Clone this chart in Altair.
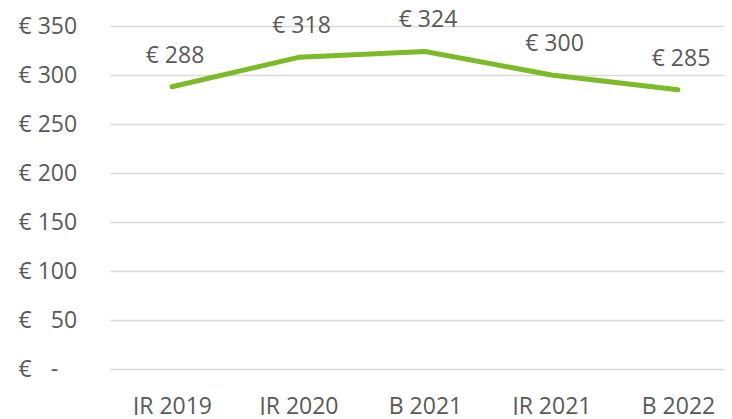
import altair as alt
import pandas as pd

periods = ["JR 2019", "JR 2020", "B 2021", "JR 2021", "B 2022"]
values = [288, 318, 324, 300, 285]
labels = ["€ 288", "€ 318", "€ 324", "€ 300", "€ 285"]

df = pd.DataFrame({"period": periods, "value": values, "label": labels})

FONT = "Open Sans"
GREY = "#595959"
FS = 23

x_enc = alt.X(
    "period:N",
    sort=periods,
    scale=alt.Scale(type="point", padding=0.427, align=0.574),
    axis=alt.Axis(
        title=None, domain=False, ticks=False, grid=False,
        labelFont=FONT, labelFontSize=FS, labelColor=GREY, labelPadding=26,
        labelAngle=0,
    ),
)
y_enc = alt.Y(
    "value:Q",
    scale=alt.Scale(domain=[0, 350], nice=False),
    axis=alt.Axis(
        title=None, domain=False, ticks=False, values=[0, 50, 100, 150, 200, 250, 300, 350],
        gridColor="#d9d9d9", gridWidth=1.3,
        labelFont=FONT, labelFontSize=FS, labelColor=GREY,
        labelAlign="left", labelPadding=92,
        labelExpr="datum.value == 0 ? '€ \u2007-' : (datum.value < 100 ? '€ \u2007' + datum.value : '€ ' + datum.value)",
    ),
)

line = alt.Chart(df).mark_line(color="#7dba28", strokeWidth=5, strokeCap="round", strokeJoin="round").encode(
    x=x_enc, y=y_enc
)
text = alt.Chart(df).mark_text(
    font=FONT, fontSize=FS, color=GREY, dx=3, dy=-24, baseline="alphabetic", align="center"
).encode(x=alt.X("period:N", sort=periods), y=alt.Y("value:Q"), text="label:N")

chart = (
    alt.layer(line, text)
    .properties(
        width=614, height=343,
        autosize=alt.AutoSizeParams(type="none"),
        padding={"left": 102, "top": 18, "right": 0, "bottom": 46},
        background="white",
    )
    .configure_view(strokeWidth=0)
)

chart.save("out.html", embed_options={"renderer": "svg", "actions": False})
